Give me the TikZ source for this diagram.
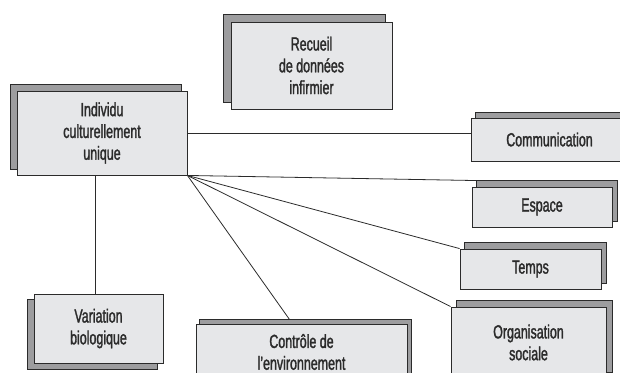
\documentclass[tikz,border=0pt]{standalone}
\usepackage{fontspec}
\setmainfont[FakeStretch=0.655,UprightFeatures={FakeBold=1.5}]{Liberation Sans}
\usetikzlibrary{calc,backgrounds}
\definecolor{boxfill}{HTML}{E6E7E9}
\definecolor{shadefill}{HTML}{9D9D9F}
\definecolor{ink}{HTML}{2B2B2B}
\tikzset{
  box/.style={draw=ink, line width=0.9pt, fill=boxfill, align=center, inner sep=0pt,
    font=\fontsize{19}{21.8}\selectfont, text=ink},
  link/.style={draw=ink, line width=0.8pt},
  shade/.style={draw=ink, line width=0.9pt, fill=shadefill},
}
\newcommand\dropshade[3]{%
  \begin{scope}[on background layer]
    \path[shade] ($(#1.south west)+(#2,#3)$) rectangle ($(#1.north east)+(#2,#3)$);
  \end{scope}}
\begin{document}
\begin{tikzpicture}[x=1pt,y=-1pt]
  \path[use as bounding box] (0,0) rectangle (620,372);
  \node[box, minimum width=170pt, minimum height=84pt] (ind) at (102,133) {Individu\\culturellement\\unique};
  \node[box, minimum width=161pt, minimum height=87pt] (rec) at (311.5,65.5) {Recueil\\de données\\infirmier};
  \node[box, minimum width=157pt, minimum height=43pt] (com) at (549.5,139.5) {Communication};
  \node[box, minimum width=140pt, minimum height=40pt] (esp) at (542,207) {Espace};
  \node[box, minimum width=141pt, minimum height=40pt] (tem) at (530.5,269) {Temps};
  \node[box, minimum width=155pt, minimum height=71pt] (org) at (528.5,342.5) {Organisation\\sociale};
  \node[box, minimum width=211pt, minimum height=56pt] (ctl) at (301.5,352) {Contrôle de\\l'environnement};
  \node[box, minimum width=129pt, minimum height=69pt] (var) at (98.5,328.5) {Variation\\biologique};
  \dropshade{ind}{-6}{-6}
  \dropshade{rec}{-7}{-7}
  \dropshade{com}{5}{-5}
  \dropshade{esp}{5}{-6}
  \dropshade{tem}{5}{-6}
  \dropshade{org}{6}{-6}
  \dropshade{ctl}{4}{-4}
  \dropshade{var}{-6}{6}
  \draw[link] (ind.east) -- (ind.east -| com.west);
  \draw[link] (ind.south east) -- ($(esp.north west)+(5,-6)$);
  \draw[link] (ind.south east) -- (tem.north west);
  \draw[link] (ind.south east) -- (org.north west);
  \draw[link] (ind.south east) -- ($(ctl.north west)+(94,-4)$);
  \draw[link] ([xshift=-3.5pt]var.north) -- ([xshift=-3.5pt]var.north |- ind.south);
\end{tikzpicture}
\end{document}
